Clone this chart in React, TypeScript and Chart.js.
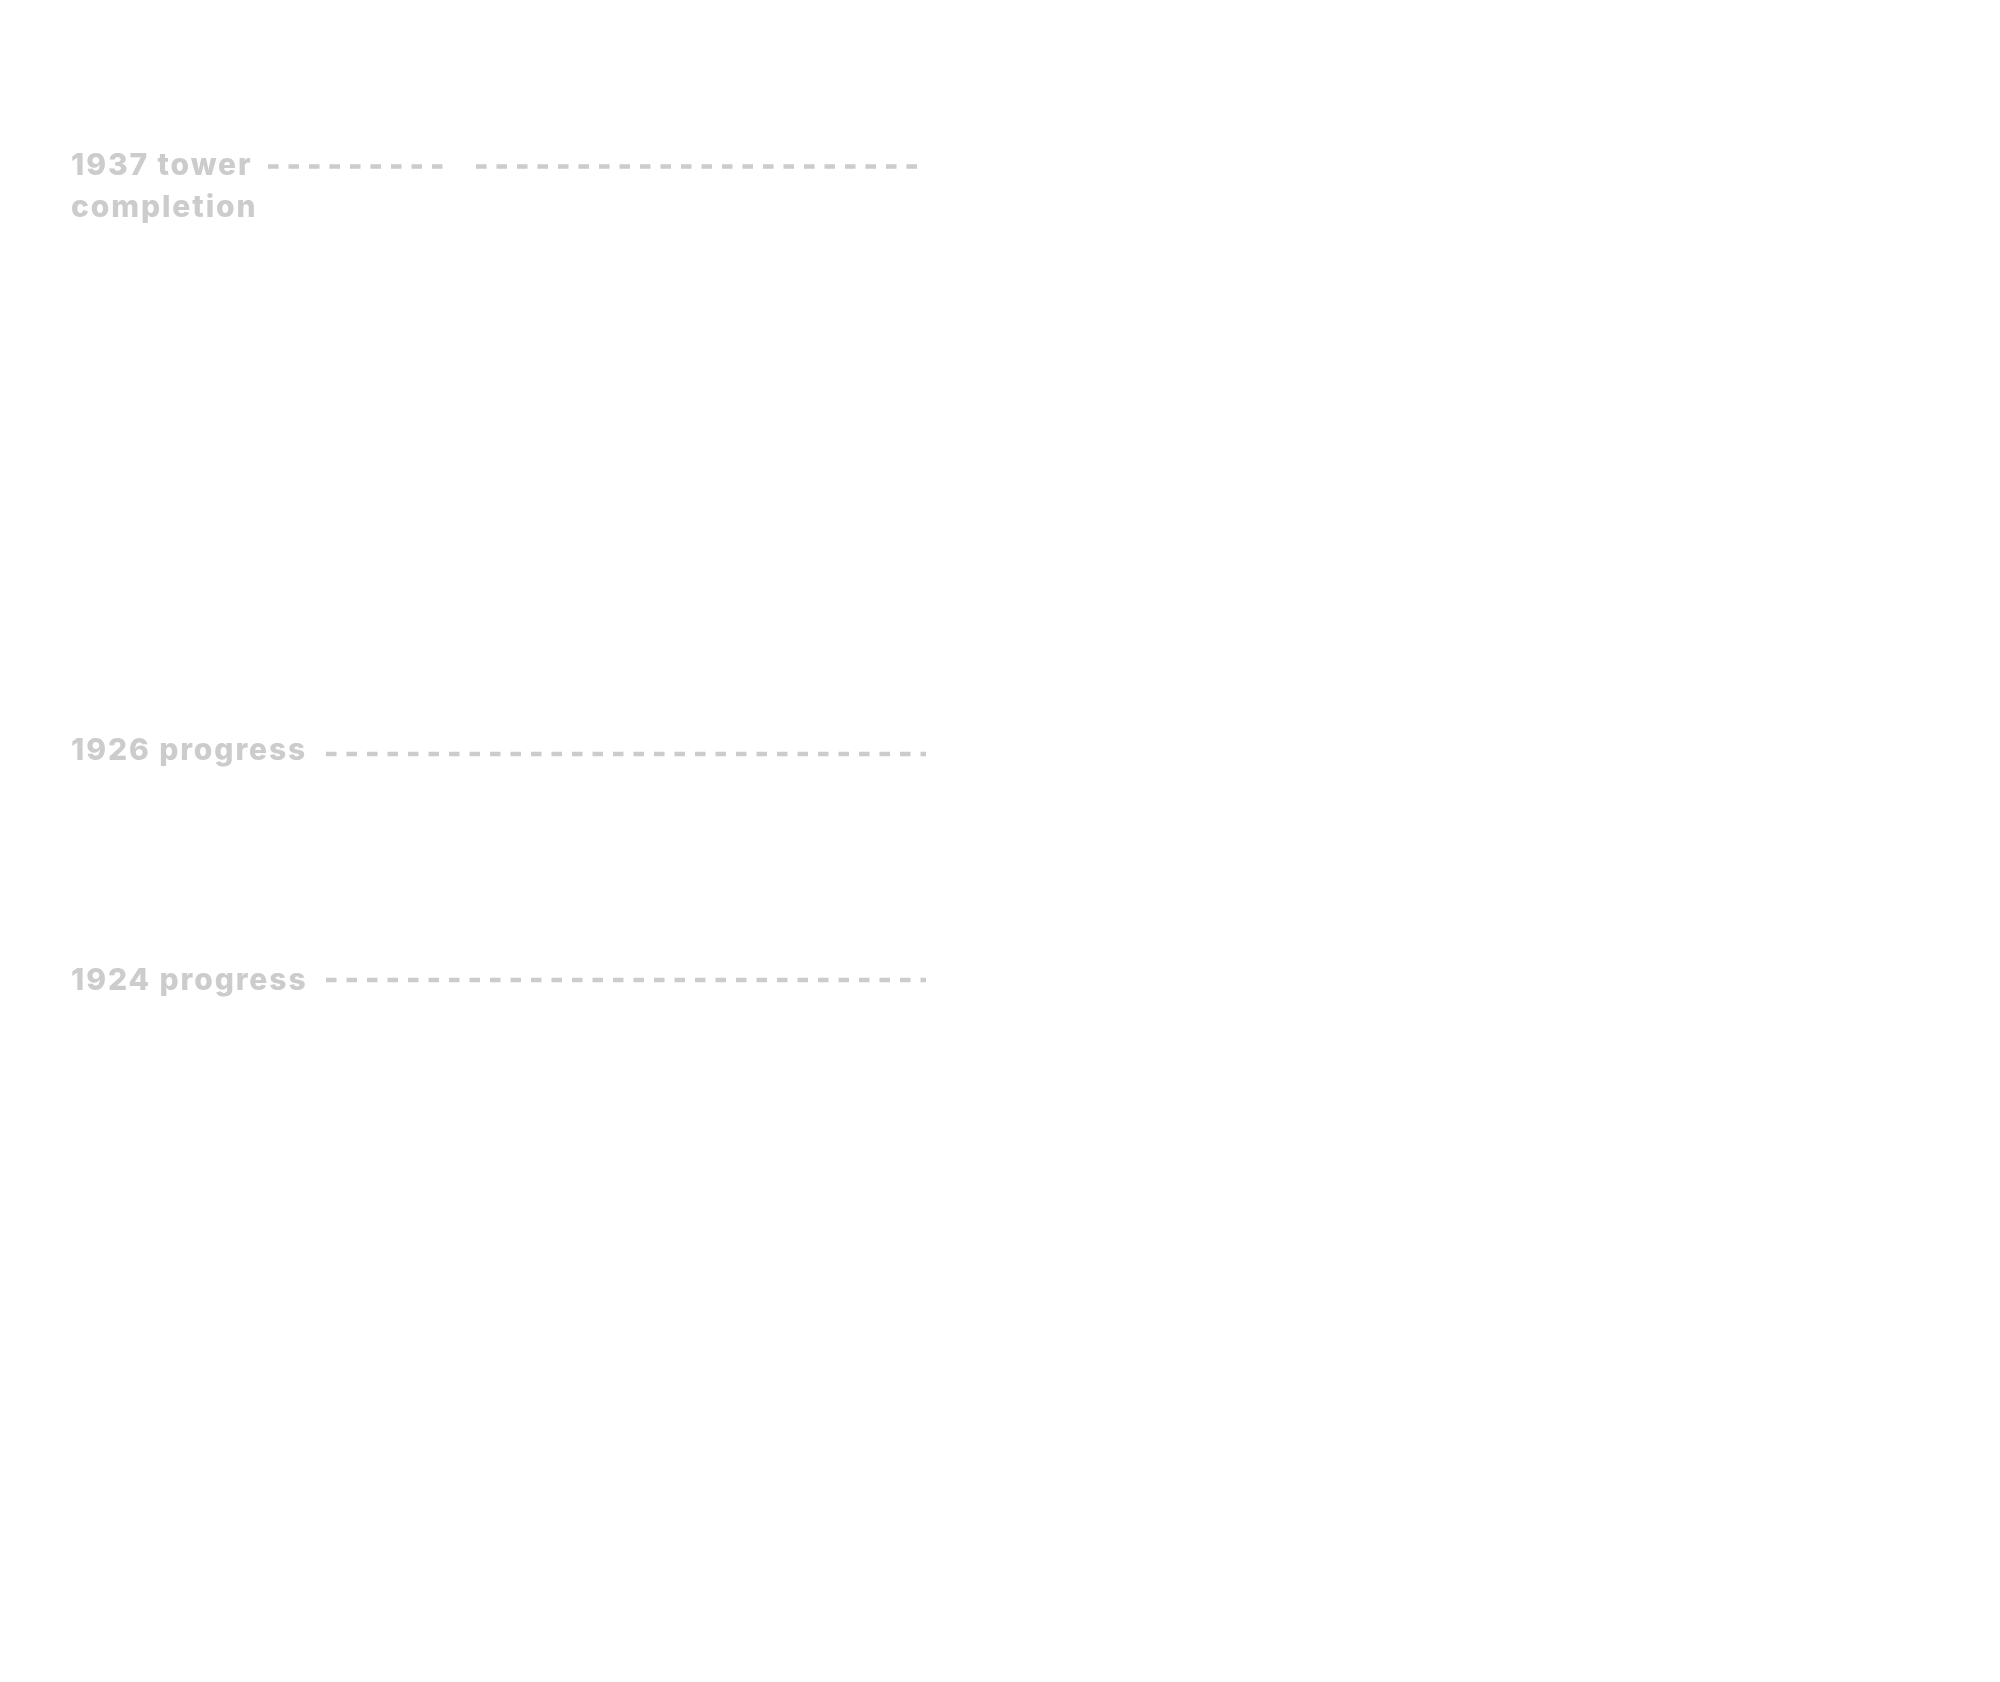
import React, { useEffect, useRef } from "react";
import { Chart, registerables } from "chart.js";

Chart.register(...registerables);

// Milestone heights (metres) marked with dashed reference lines
const milestoneLabels: string[][] = [["1937 tower", "completion"], ["1926 progress"], ["1924 progress"]];
const milestoneHeights: number[] = [112, 60, 40];
// Horizontal extent of each dashed guide, in x-scale units (0–100)
const milestoneSpans: number[][][] = [
  [[13.4, 22.125], [23.8, 45.85]],
  [[16.3, 46.3]],
  [[16.3, 46.3]],
];
const labelBaselineOffsets: number[] = [9, 6, 10];

const GUIDE_COLOR = "#cccccc";

const guidePlugin = {
  id: "milestoneGuides",
  afterDraw(chart: any) {
    const { ctx, scales } = chart;
    const xs = scales.x;
    const ys = scales.y;
    ctx.save();
    milestoneHeights.forEach((h, i) => {
      const y = ys.getPixelForValue(h);
      ctx.strokeStyle = GUIDE_COLOR;
      ctx.lineWidth = 4.5;
      ctx.lineCap = "butt";
      ctx.setLineDash([10.5, 10]);
      milestoneSpans[i].forEach(([a, b]) => {
        ctx.beginPath();
        ctx.moveTo(xs.getPixelForValue(a), y);
        ctx.lineTo(xs.getPixelForValue(b), y);
        ctx.stroke();
      });
      ctx.setLineDash([]);
      ctx.fillStyle = GUIDE_COLOR;
      ctx.font = "800 30px Inter";
      (ctx as any).letterSpacing = "1.9px";
      ctx.textAlign = "left";
      ctx.textBaseline = "alphabetic";
      milestoneLabels[i].forEach((line, j) => {
        ctx.fillText(line, 71, y + labelBaselineOffsets[i] + j * 42);
      });
      (ctx as any).letterSpacing = "0px";
    });
    ctx.restore();
  },
};

export default function App() {
  const ref = useRef<HTMLCanvasElement | null>(null);
  useEffect(() => {
    document.body.style.margin = "0";
    const canvas = ref.current;
    if (!canvas) return;
    const chart = new Chart(canvas, {
      type: "line",
      data: { datasets: [] },
      options: {
        responsive: false,
        animation: false,
        layout: { padding: { top: 76, bottom: 250, left: 0, right: 0 } },
        plugins: { legend: { display: false }, tooltip: { enabled: false }, title: { display: false } },
        scales: {
          x: { type: "linear", min: 0, max: 100, display: false },
          y: { type: "linear", min: 0, max: 120, display: false },
        },
      },
      plugins: [guidePlugin],
    } as any);
    return () => chart.destroy();
  }, []);
  return (
    <div style={{ width: 2000, height: 1682, background: "#ffffff" }}>
      <canvas ref={ref} width={2000} height={1682} style={{ display: "block" }} />
    </div>
  );
}
